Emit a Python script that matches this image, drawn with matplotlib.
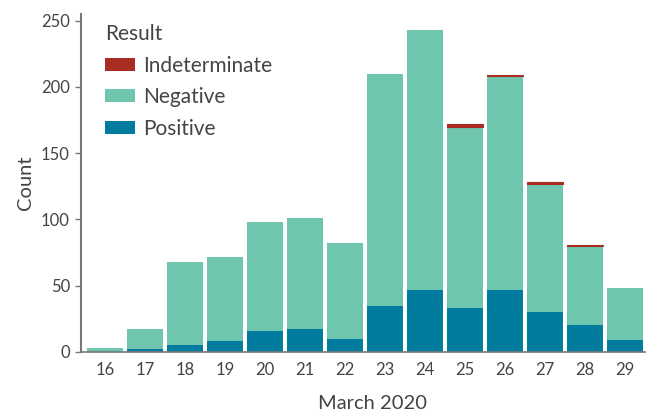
import matplotlib
matplotlib.use("Agg")
import matplotlib.pyplot as plt
import numpy as np

# data
days = ["16", "17", "18", "19", "20", "21", "22", "23", "24", "25", "26", "27", "28", "29"]
positive = [0, 2, 5, 8, 16, 17, 10, 35, 47, 33, 47, 30, 20, 9]
negative = [3, 15, 63, 64, 82, 84, 72, 175, 196, 137, 161, 97, 60, 39]
indeterminate = [0, 0, 0, 0, 0, 0, 0, 0, 0, 2, 1, 1, 1, 0]

c_pos = "#017c9f"
c_neg = "#6dc6ad"
c_ind = "#a82c21"
grey = "#777777"
txt = "#444444"

plt.rcParams["font.family"] = ["Lato", "DejaVu Sans"]

fig = plt.figure(figsize=(6.48, 4.12), dpi=100)
ax = fig.add_axes([81 / 648, 60 / 412, 564 / 648, 338 / 412])

x = np.arange(len(days))
pos = np.array(positive)
neg = np.array(negative)
ind = np.array(indeterminate)

ax.bar(x, pos, width=0.9, color=c_pos, label="Positive")
ax.bar(x, neg, width=0.9, bottom=pos, color=c_neg, label="Negative")
# thin edge so the 1-count strips stay visible like in the original
ax.bar(x, ind, width=0.9, bottom=pos + neg, color=c_ind, edgecolor=c_ind,
       linewidth=[0.8 if v > 0 else 0 for v in indeterminate], label="Indeterminate")

ax.set_xlim(-0.6, 13.5)
ax.set_ylim(0, 255)
ax.set_xticks(x)
ax.set_xticklabels(days)
ax.set_yticks([0, 50, 100, 150, 200, 250])

for s in ["top", "right"]:
    ax.spines[s].set_visible(False)
ax.spines["left"].set_color(grey)
ax.spines["left"].set_linewidth(1.5)
ax.spines["bottom"].set_color(grey)
ax.spines["bottom"].set_linewidth(1.2)

ax.tick_params(axis="x", length=0, pad=7, labelsize=12, labelcolor=txt)
ax.tick_params(axis="y", length=4, width=1, color=grey, pad=4, labelsize=12, labelcolor=txt)

ax.set_xlabel("March 2020", fontsize=14.5, color=txt)
ax.xaxis.set_label_coords((373 - 81) / 564, -(395 - 352) / 338)
ax.set_ylabel("Count", fontsize=14.5, color=txt)
ax.yaxis.set_label_coords(-(81 - 34) / 564, 0.5)

handles, labels = ax.get_legend_handles_labels()
leg = ax.legend(handles[::-1], labels[::-1], title="Result", loc="upper left",
                bbox_to_anchor=(-0.005, 1.05), frameon=False, fontsize=15,
                title_fontsize=15, alignment="left", handlelength=1.45,
                handleheight=0.56, handletextpad=0.35, labelspacing=0.55,
                borderaxespad=0.9)
for t in leg.get_texts():
    t.set_color(txt)
leg.get_title().set_color(txt)

fig.savefig("out.png", dpi=100)
